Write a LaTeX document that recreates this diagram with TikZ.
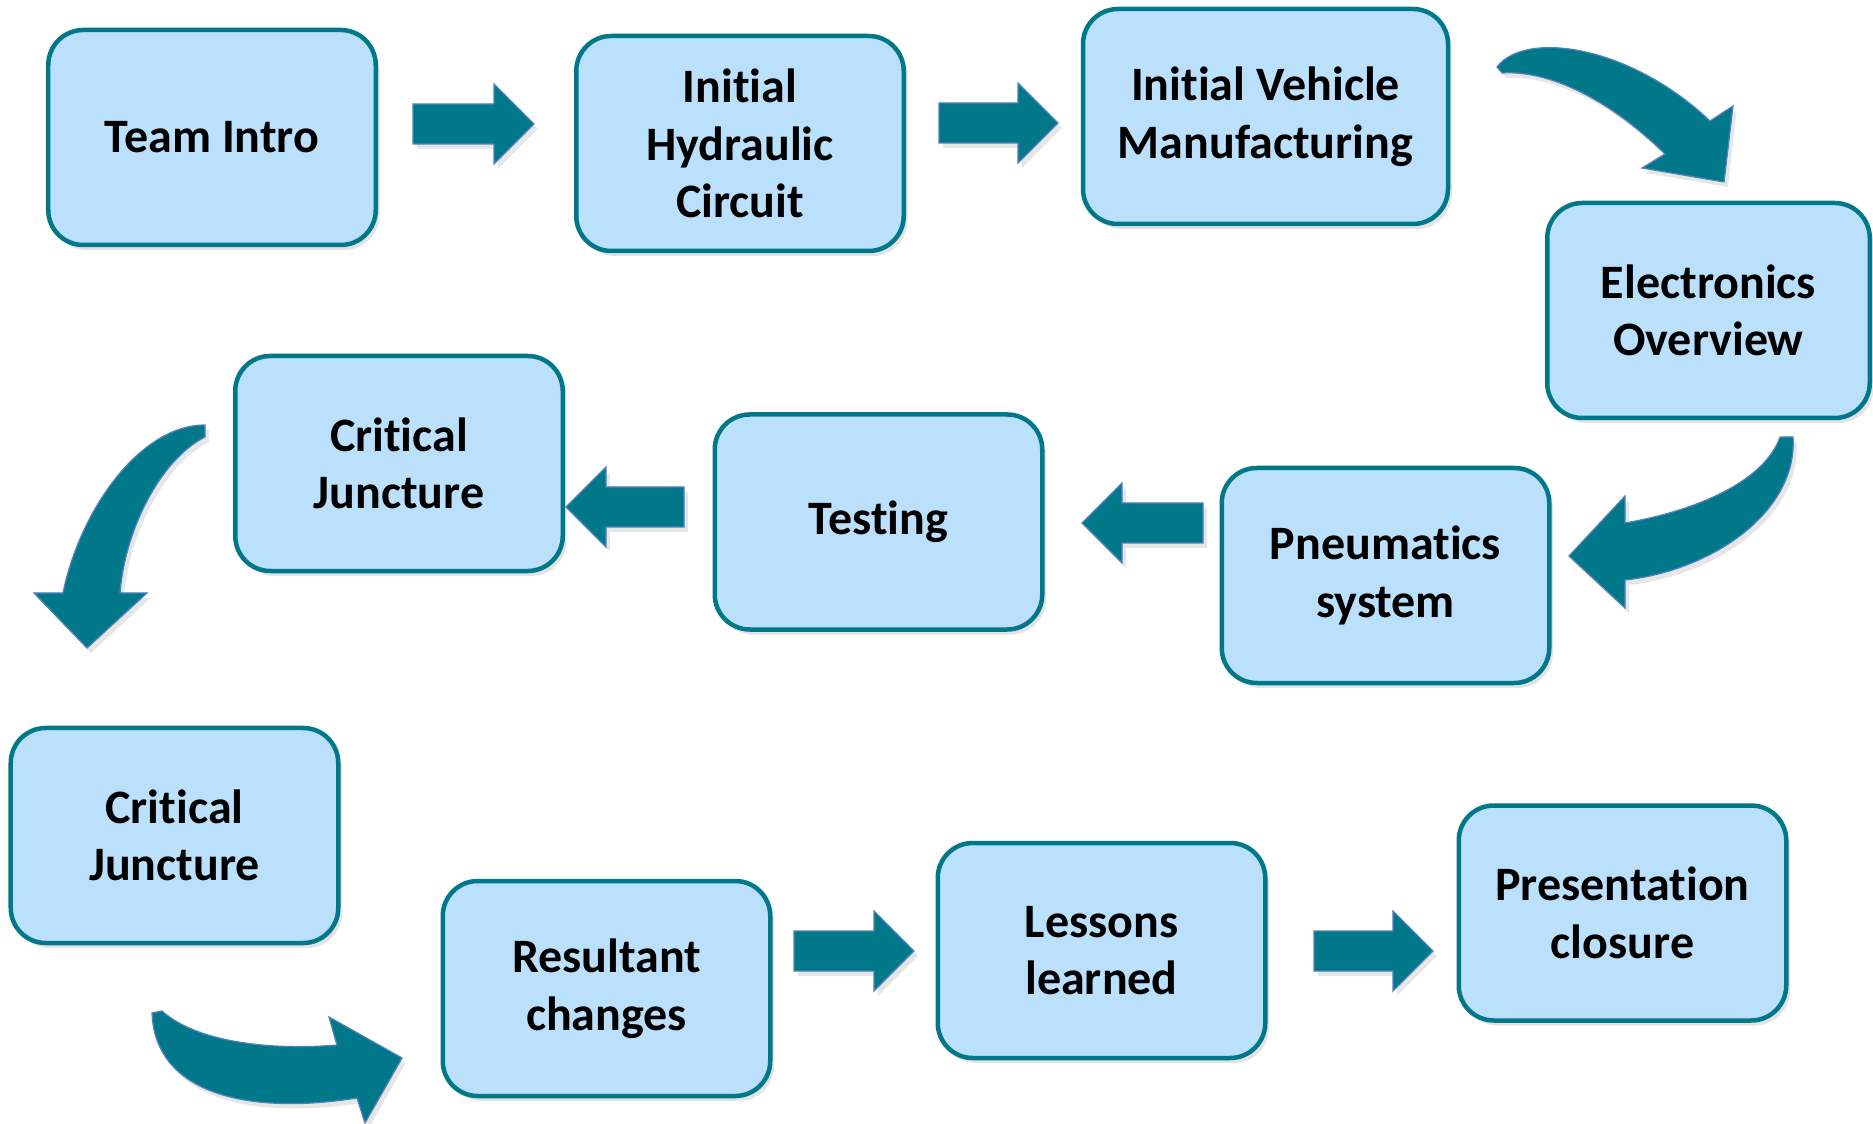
\documentclass[tikz,border=0pt]{standalone}
\usepackage{fontspec}
\setmainfont[Ligatures={NoCommon,NoContextual},Contextuals=NoAlternate]{Carlito}
\usetikzlibrary{shadows}
\definecolor{boxfill}{RGB}{187,224,252}
\definecolor{teal}{RGB}{0,120,138}
\definecolor{edgeblue}{RGB}{79,129,189}
\tikzset{
  box/.style={draw=teal, line width=1.8pt, fill=boxfill, rounded corners=14pt,
    align=center, inner sep=0pt, minimum width=131pt, minimum height=86pt,
    font=\fontsize{19.2}{23}\selectfont\bfseries,
    drop shadow={opacity=0.22, shadow xshift=1.5pt, shadow yshift=-2pt}},
  blockarrow/.style={fill=teal, draw=edgeblue, line width=0.5pt, line join=miter,
    drop shadow={opacity=0.2, shadow xshift=1.5pt, shadow yshift=-2pt}}
}
% straight block arrow: tail x, tip x, centre y (head length 40, half head 40, half shaft 20)
\newcommand\rightblock[3]{%
  \path[blockarrow] ({#1},{#3-20}) -- ({#2-40},{#3-20}) -- ({#2-40},{#3-40}) -- ({#2},{#3})
    -- ({#2-40},{#3+40}) -- ({#2-40},{#3+20}) -- ({#1},{#3+20}) -- cycle;}
\newcommand\leftblock[3]{%
  \path[blockarrow] ({#1},{#3-20}) -- ({#2+40},{#3-20}) -- ({#2+40},{#3-40}) -- ({#2},{#3})
    -- ({#2+40},{#3+40}) -- ({#2+40},{#3+20}) -- ({#1},{#3+20}) -- cycle;}
\begin{document}
\begin{tikzpicture}[x=0.4pt, y=-0.4pt]
\useasboundingbox (0,0) rectangle (1873,1124);

% process steps
\node[box] (intro) at (212,137.5) {Team Intro};
\node[box] (hydr) at (740,143.5) {Initial\\Hydraulic\\Circuit};
\node[box, minimum width=146pt] (vehicle) at (1265.5,116.5) {Initial Vehicle\\Manufacturing};
\node[box, minimum width=129pt] (elec) at (1708.5,310.5) {Electronics\\Overview};
\node[box] (pneu) at (1385.5,575.5) {Pneumatics\\system};
\node[box] (test) at (878.5,522) {Testing};
\node[box] (crit1) at (399,463.5) {Critical\\Juncture};
\node[box] (crit2) at (174.5,835.5) {Critical\\Juncture};
\node[box] (result) at (606.5,988.5) {Resultant\\changes};
\node[box] (lessons) at (1101.5,950.5) {Lessons\\learned};
\node[box] (close) at (1622.5,913) {Presentation\\closure};

% straight block arrows
\rightblock{413}{534}{124}
\rightblock{939}{1058}{123}
\leftblock{1203}{1082}{523}
\leftblock{684}{566}{507}
\rightblock{794}{914}{951}
\rightblock{1314}{1433}{951}

% curved arrow: manufacturing -> electronics
\path[blockarrow] (1497,67) .. controls (1525,30) and (1630,45) .. (1710,121)
  -- (1733,106) -- (1724,182) -- (1642,168) -- (1665,154)
  .. controls (1610,100) and (1550,70) .. (1502,73) -- cycle;

% curved arrow: electronics -> pneumatics
\path[blockarrow] (1780,437) -- (1793,437) .. controls (1798,510) and (1715,570) .. (1625,580)
  -- (1625,608) -- (1569,556) -- (1625,496) -- (1625,523)
  .. controls (1700,510) and (1765,480) .. (1780,437) -- cycle;

% curved arrow: upper juncture -> lower juncture
\path[blockarrow] (205,425) .. controls (140,425) and (80,510) .. (63,593)
  -- (34,593) -- (87,648) -- (147,593) -- (120,593)
  .. controls (125,530) and (160,460) .. (205,437) -- cycle;

% curved arrow: lower juncture -> resultant changes
\path[blockarrow] (152,1013) -- (162,1011) .. controls (200,1045) and (280,1050) .. (337,1045)
  -- (329,1017) -- (402,1058) -- (365,1123) -- (357,1098)
  .. controls (250,1115) and (155,1095) .. (152,1013) -- cycle;
\end{tikzpicture}
\end{document}
